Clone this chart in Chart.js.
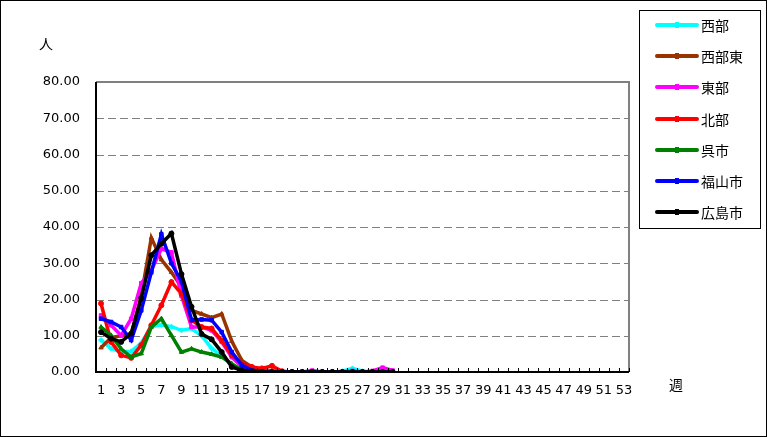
<!DOCTYPE html>
<html>
<head>
<meta charset="utf-8">
<script src="https://cdn.jsdelivr.net/npm/chart.js@4.4.0/dist/chart.umd.min.js"></script>
<style>
  body { margin: 0; background: #fff; }
  #wrap { width: 767px; height: 437px; }
</style>
</head>
<body>
<div id="wrap"><canvas id="myChart" width="767" height="437"></canvas></div>
<script>
// weeks 1..53
var weeks = [];
for (var w = 1; w <= 53; w++) weeks.push(String(w));

var yTicks = [0, 10, 20, 30, 40, 50, 60, 70, 80];

var names = ['西部', '西部東', '東部', '北部', '呉市', '福山市', '広島市'];
var colors = ['#00ffff', '#993300', '#ff00ff', '#ff0000', '#008000', '#0000ff', '#000000'];
var markers = ['rectRot', 'triangle', 'rect', 'circle', 'triangle', 'rect', 'circle'];

// values per week (data only reported up to week 30)
var seibu = [8.8, 6.5, 5.5, 5.7, 8, 12.5, 13, 12.5, 11.5, 12, 10, 6.5, 4.5, 2, 0.8, 0.4, 0.2, 0.1, 0, 0, 0, 0, 0, 0, 0.2, 1.0, 0.2, 0, 0, 0];
var seibuHigashi = [6.7, 9.5, 10, 10.5, 21, 37, 31, 27.5, 23.5, 17, 16, 15, 16, 8.5, 3.2, 1.4, 0.6, 0.3, 0.1, 0, 0, 0, 0, 0, 0, 0, 0, 0, 0, 0];
var toubu = [15.6, 12.9, 10.1, 14.7, 24.5, 28, 34, 33, 21, 12.4, 12.4, 11.5, 8.3, 4.1, 1.4, 0.8, 0.4, 0.2, 0.1, 0, 0, 0.4, 0, 0, 0, 0.3, 0, 0.3, 1.2, 0.4];
var hokubu = [18.9, 8.3, 4.6, 3.9, 7.4, 12.9, 18.4, 24.8, 21.6, 14.3, 12.4, 12, 8.7, 4.6, 2.3, 1.4, 1, 1.7, 0.2, 0, 0, 0, 0, 0, 0, 0, 0, 0, 0, 0];
var kure = [12.4, 10.1, 6.4, 4.1, 5.1, 12.4, 14.7, 10.1, 5.5, 6.4, 5.5, 4.9, 4.1, 2.3, 0.5, 0.2, 0, 0, 0, 0, 0, 0, 0, 0, 0, 0, 0, 0, 0, 0];
var fukuyama = [14.7, 13.8, 12.4, 8.8, 17, 27.5, 38, 30, 25, 14.3, 14.5, 14.3, 11, 5.5, 1.9, 0.5, 0.2, 0, 0, 0, 0, 0, 0, 0, 0, 0, 0, 0, 0, 0];
var hiroshima = [11, 9.2, 8.3, 10.6, 20.4, 32.2, 35.4, 38.2, 27, 18, 10.5, 9, 5.5, 1.4, 0.5, 0.2, 0, 0, 0, 0, 0, 0, 0, 0, 0, 0, 0, 0, 0, 0];

var series = [seibu, seibuHigashi, toubu, hokubu, kure, fukuyama, hiroshima];

var datasets = series.map(function (vals, i) {
  return {
    label: names[i],
    data: vals,
    borderColor: colors[i],
    backgroundColor: colors[i],
    borderWidth: 3.5,
    pointStyle: markers[i],
    pointRadius: 2.5,
    pointBorderWidth: 1,
    tension: 0,
    order: names.length - i   // last series drawn on top
  };
});

// dashed gridlines under the lines
var gridDash = {
  id: 'gridDash',
  beforeDatasetsDraw: function (chart) {
    var c = chart.ctx;
    var a = chart.chartArea;
    var ys = chart.scales.y;
    c.save();
    c.strokeStyle = '#808080';
    c.lineWidth = 1;
    c.setLineDash([8, 4]);
    yTicks.slice(1, -1).forEach(function (v) {
      var y = Math.round(ys.getPixelForValue(v)) + 0.5;
      c.beginPath();
      c.moveTo(a.left, y);
      c.lineTo(a.right, y);
      c.stroke();
    });
    c.restore();
  }
};

// plot frame, inner x tick marks, axis titles, legend box and outer border
var decor = {
  id: 'decor',
  afterDraw: function (chart) {
    var c = chart.ctx;
    var a = chart.chartArea;
    var xs = chart.scales.x;
    c.save();

    // gray frame top/right
    c.strokeStyle = '#808080';
    c.lineWidth = 2;
    c.beginPath();
    c.moveTo(a.left, a.top);
    c.lineTo(a.right, a.top);
    c.lineTo(a.right, a.bottom);
    c.stroke();
    // black axes left/bottom
    c.strokeStyle = '#000';
    c.beginPath();
    c.moveTo(a.left, a.top);
    c.lineTo(a.left, a.bottom);
    c.lineTo(a.right, a.bottom);
    c.stroke();

    // tick marks between categories, pointing inside
    c.lineWidth = 1;
    c.beginPath();
    var step = xs.getPixelForValue(1) - xs.getPixelForValue(0);
    for (var i = 0; i <= weeks.length; i++) {
      var x = Math.round(xs.getPixelForValue(i) - step / 2) + 0.5;
      c.moveTo(x, a.bottom);
      c.lineTo(x, a.bottom - 4);
    }
    c.stroke();

    // axis titles
    c.fillStyle = '#000';
    c.font = '14px "Noto Sans CJK JP"';
    c.textAlign = 'center';
    c.textBaseline = 'middle';
    c.fillText('人', 46, 44);
    c.fillText('週', 676, 385);

    // legend
    c.lineWidth = 1;
    c.strokeRect(639.5, 10.5, 121, 218);
    c.textAlign = 'left';
    c.font = '14px "Noto Sans CJK JP"';
    chart.data.datasets.forEach(function (ds, k) {
      var y = Math.round(25 + k * 31.2);
      c.strokeStyle = ds.borderColor;
      c.lineWidth = 4;
      c.lineCap = 'round';
      c.beginPath();
      c.moveTo(657, y);
      c.lineTo(697, y);
      c.stroke();
      c.fillStyle = ds.borderColor;
      c.fillRect(675, y - 3, 4, 6);
      c.fillStyle = '#000';
      c.fillText(ds.label, 701, y + 1);
    });

    // outer border
    c.strokeStyle = '#000';
    c.lineWidth = 1;
    c.lineCap = 'butt';
    c.strokeRect(0.5, 0.5, 766, 436);
    c.restore();
  }
};

var ctx = document.getElementById('myChart').getContext('2d');
var myChart = new Chart(ctx, {
  type: 'line',
  data: {
    labels: weeks,
    datasets: datasets
  },
  options: {
    responsive: false,
    animation: false,
    layout: {
      padding: { left: 0, top: 82, right: 138, bottom: 0 }
    },
    plugins: {
      legend: { display: false },
      tooltip: { enabled: false }
    },
    scales: {
      x: {
        offset: true,
        grid: { display: false },
        border: { display: false },
        afterFit: function (scale) { scale.height = 65; },
        ticks: {
          autoSkip: false,
          maxRotation: 0,
          padding: 3,
          color: '#000',
          font: { family: '"DejaVu Sans"', size: 13 },
          callback: function (v, i) { return i % 2 === 0 ? weeks[i] : ''; }
        }
      },
      y: {
        min: yTicks[0],
        max: yTicks[yTicks.length - 1],
        afterFit: function (scale) { scale.width = 96; },
        afterBuildTicks: function (scale) {
          scale.ticks = yTicks.map(function (v) { return { value: v }; });
        },
        grid: { display: false, drawTicks: false },
        border: { display: false },
        ticks: {
          padding: 16,
          color: '#000',
          font: { family: '"DejaVu Sans"', size: 13 },
          callback: function (v) { return Number(v).toFixed(2); }
        }
      }
    }
  },
  plugins: [gridDash, decor]
});
</script>
</body>
</html>
